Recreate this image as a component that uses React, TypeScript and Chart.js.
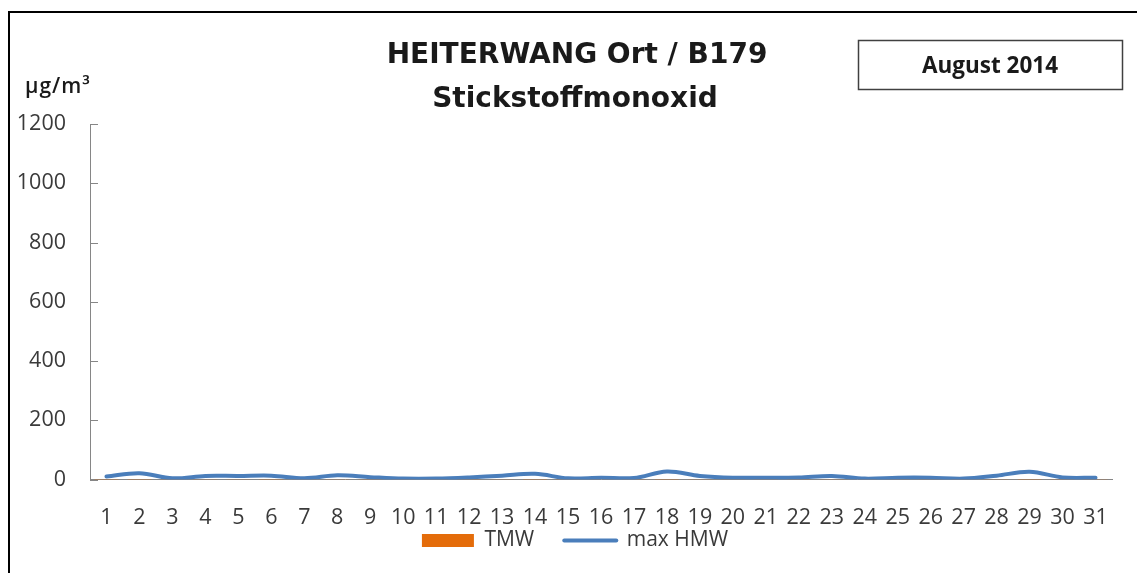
import React, { useEffect, useRef } from "react";
import { Chart, registerables } from "chart.js";

Chart.register(...registerables);

const TITLE_LINES = ["HEITERWANG Ort / B179", "Stickstoffmonoxid"];
const PERIOD = "August 2014";
const UNIT = "µg/m³";

const days = [
  "1", "2", "3", "4", "5", "6", "7", "8", "9", "10",
  "11", "12", "13", "14", "15", "16", "17", "18", "19", "20",
  "21", "22", "23", "24", "25", "26", "27", "28", "29", "30", "31",
];

const tmw = [
  2, 2, 1, 1, 1, 2, 1, 1, 1, 1,
  1, 1, 1, 2, 1, 1, 1, 2, 1, 1,
  1, 1, 1, 1, 1, 1, 1, 1, 2, 1, 1,
];

const maxHmw = [
  10, 21, 4, 12, 12, 13, 4, 14, 8, 3,
  3, 7, 13, 19, 4, 6, 5, 27, 12, 6,
  6, 7, 12, 3, 6, 6, 3, 13, 26, 7, 6,
];

const yTicks = [0, 200, 400, 600, 800, 1000, 1200];

const FONT = "'Open Sans', Lato, sans-serif";
const TITLE_FONT = "'DejaVu Sans', 'Open Sans', sans-serif";
const TEXT_COLOR = "#3a3a3a";
const AXIS_COLOR = "#868686";
const PAD_LEFT = 38;

const decorPlugin = {
  id: "decor",
  beforeDraw(chart: any) {
    const ctx = chart.ctx as any;
    ctx.save();
    ctx.fillStyle = "#ffffff";
    ctx.fillRect(0, 0, chart.width, chart.height);
    ctx.strokeStyle = "#000000";
    ctx.lineWidth = 2;
    ctx.beginPath();
    ctx.moveTo(9, chart.height);
    ctx.lineTo(9, 12);
    ctx.lineTo(chart.width, 12);
    ctx.stroke();

    ctx.fillStyle = "#1a1a1a";
    ctx.textAlign = "center";
    ctx.textBaseline = "middle";
    ctx.font = `bold 28px ${TITLE_FONT}`;
    ctx.fillText(TITLE_LINES[0], 577, 56);
    ctx.fillText(TITLE_LINES[1], 575, 100);

    ctx.strokeStyle = "#404040";
    ctx.lineWidth = 1.5;
    ctx.strokeRect(858.5, 40.5, 264, 49);
    ctx.font = `bold 22.5px ${FONT}`;
    ctx.fillText(PERIOD, 990, 67);

    ctx.textAlign = "left";
    ctx.letterSpacing = "1px";
    ctx.font = `600 21px ${FONT}`;
    ctx.fillText(UNIT, 25, 87);
    ctx.restore();
  },
  afterDraw(chart: any) {
    const ctx = chart.ctx as CanvasRenderingContext2D;
    const y = chart.scales.y;
    const x0 = chart.chartArea.left;
    ctx.save();
    ctx.strokeStyle = AXIS_COLOR;
    ctx.lineWidth = 1;
    ctx.beginPath();
    y.ticks.forEach((t: any) => {
      const py = Math.round(y.getPixelForValue(t.value)) + 0.5;
      ctx.moveTo(x0, py);
      ctx.lineTo(x0 + 8, py);
    });
    ctx.stroke();
    ctx.restore();
  },
};

export default function App() {
  const ref = useRef<HTMLCanvasElement | null>(null);

  useEffect(() => {
    document.body.style.margin = "0";
    const canvas = ref.current;
    if (!canvas) return;
    const chart = new Chart(canvas, {
      type: "bar",
      data: {
        labels: days,
        datasets: [
          {
            type: "line",
            label: "max HMW",
            data: maxHmw,
            borderColor: "#4A7EBB",
            backgroundColor: "#4A7EBB",
            borderWidth: 4,
            pointRadius: 0,
            tension: 0.35,
            borderCapStyle: "round",
            order: 1,
          } as any,
          {
            type: "bar",
            label: "TMW",
            data: tmw,
            backgroundColor: "#E46C0A",
            order: 2,
          },
        ],
      },
      options: {
        responsive: false,
        animation: false,
        layout: { padding: { left: PAD_LEFT, top: 124, right: 25, bottom: 12 } },
        plugins: {
          title: { display: false },
          tooltip: { enabled: false },
          legend: {
            position: "bottom",
            labels: {
              usePointStyle: true,
              pointStyleWidth: 52,
              boxHeight: 13,
              padding: 30,
              color: TEXT_COLOR,
              font: { family: FONT, size: 21 },
              generateLabels: (c: any) => {
                const items = Chart.defaults.plugins.legend.labels.generateLabels(c);
                const mapped = items.map((it: any) => {
                  const ds = c.data.datasets[it.datasetIndex];
                  if (ds.type === "line") {
                    return { ...it, pointStyle: "line", lineWidth: 4, strokeStyle: "#4A7EBB", lineCap: "round" };
                  }
                  return { ...it, pointStyle: "rect", lineWidth: 0, fillStyle: "#E46C0A" };
                });
                return mapped.sort((a: any, b: any) => (a.text === "TMW" ? -1 : 1) - (b.text === "TMW" ? -1 : 1));
              },
            },
          },
        },
        scales: {
          x: {
            grid: { display: false, drawTicks: false },
            border: { display: true, color: AXIS_COLOR, width: 1 },
            ticks: {
              color: TEXT_COLOR,
              font: { family: FONT, size: 21.5 },
              padding: 25,
              maxRotation: 0,
              autoSkip: false,
            },
            afterFit: (s: any) => {
              s.height = 20.5;
              s._computeLabelArea = () => undefined;
            },
          },
          y: {
            min: 0,
            max: 1200,
            afterBuildTicks: (s: any) => {
              s.ticks = yTicks.map((v) => ({ value: v }));
            },
            grid: { display: false, drawTicks: false },
            border: { display: true, color: AXIS_COLOR, width: 1 },
            ticks: {
              color: TEXT_COLOR,
              font: { family: FONT, size: 21.5 },
              padding: 24,
              callback: (v: any) => String(v),
            },
            afterFit: (s: any) => {
              s.width = 90 - PAD_LEFT;
              s._computeLabelArea = () => undefined;
            },
          },
        },
      },
      plugins: [decorPlugin],
    });
    return () => chart.destroy();
  }, []);

  return (
    <div style={{ width: 1137, height: 573 }}>
      <canvas ref={ref} width={1137} height={573} style={{ display: "block" }} />
    </div>
  );
}
